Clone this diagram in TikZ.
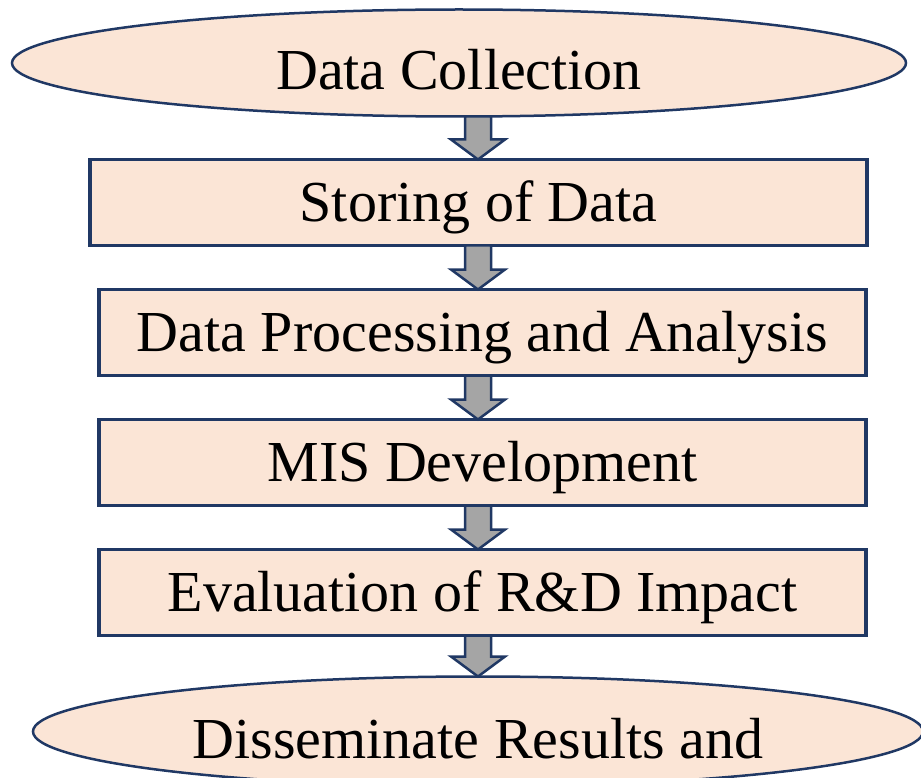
\documentclass[tikz,border=0pt]{standalone}
\usepackage{fontspec}
\setmainfont{Liberation Serif}
\usetikzlibrary{shapes,positioning,calc}
\definecolor{peach}{HTML}{FBE5D6}
\definecolor{navy}{HTML}{203864}
\definecolor{arrowgray}{HTML}{A5A5A5}
\tikzset{
block/.style = {draw=navy, fill=peach, rectangle, line width=3.5pt, inner sep=0pt, outer sep=0pt, text height=38pt, text depth=0pt},
oval/.style = {draw=navy, fill=peach, ellipse, line width=2.5pt, inner sep=0pt, outer sep=0pt, text height=54pt, text depth=0pt},
flow/.style = {draw=navy, fill=arrowgray, line width=2.5pt, line join=miter},
tmp/.style = {coordinate}
}
% block arrow from the bottom of #1 down to the top of #2
\newcommand{\flowarrow}[2]{%
  \draw[flow] let \p1=(#1.south -| mid), \p2=(#2.north -| mid) in
    ({\x1-13pt},\y1) -- ({\x1+13pt},\y1) -- ({\x1+13pt},{\y2+20pt})
    -- ({\x1+27pt},{\y2+20pt}) -- (\p2) -- ({\x1-27pt},{\y2+20pt})
    -- ({\x1-13pt},{\y2+20pt}) -- cycle;}

\begin{document}
\begin{tikzpicture}[auto, x=1pt, y=-1pt, font=\fontsize{58pt}{70pt}\selectfont]
	\useasboundingbox (0,0) rectangle (921,778);
	\node[tmp] (mid) at (478,0) {};
	\node[oval, minimum width=894pt, minimum height=107pt] (collect) at (459,63) {Data Collection};
	\node[block, minimum width=777pt, minimum height=86pt, below of=collect, node distance=139.5pt, xshift=19.5pt] (store) {Storing of Data};
	\node[block, minimum width=767pt, minimum height=86pt, below of=store, node distance=130pt, xshift=4pt] (process) {Data Processing and Analysis};
	\node[block, minimum width=767pt, minimum height=86pt, below of=process, node distance=130pt] (mis) {MIS Development};
	\node[block, minimum width=767pt, minimum height=86pt, below of=mis, node distance=130pt] (impact) {Evaluation of R\&D Impact};
	\node[oval, minimum width=890pt, minimum height=110pt, below of=impact, node distance=139pt, xshift=-4.5pt] (spread) {Disseminate Results and};
	\flowarrow{collect}{store}
	\flowarrow{store}{process}
	\flowarrow{process}{mis}
	\flowarrow{mis}{impact}
	\flowarrow{impact}{spread}
\end{tikzpicture}
\end{document}
